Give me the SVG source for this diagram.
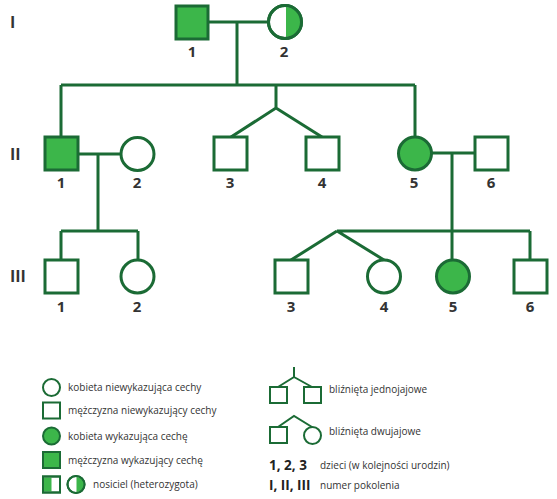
<svg xmlns="http://www.w3.org/2000/svg" width="557" height="499" viewBox="0 0 557 499">
<defs>
<style>
.ln{fill:none;stroke:#1b6b35;stroke-width:3}
.e{fill:#fff;stroke:#1b6b35;stroke-width:3}
.f{fill:#3cb64a;stroke:#1b6b35;stroke-width:3}
.le{fill:#fff;stroke:#1b6b35;stroke-width:2}
.lf{fill:#3cb64a;stroke:#1b6b35;stroke-width:2}
.lln{fill:none;stroke:#1b6b35;stroke-width:2}
.g{fill:#3cb64a}
.num{font-family:"Open Sans","Liberation Sans",sans-serif;font-weight:bold;font-size:15px;fill:#333;text-anchor:middle}
.rom{font-family:"Open Sans","Liberation Sans",sans-serif;font-weight:bold;font-size:16px;fill:#333}
.lt{font-family:"Open Sans","Liberation Sans",sans-serif;font-size:10px;fill:#333}
.lb{font-family:"Open Sans","Liberation Sans",sans-serif;font-weight:bold;font-size:13.5px;fill:#222}
</style>
</defs>
<rect width="557" height="499" fill="#fff"/>
<g id="connectors">
<path class="ln" d="M207 22H269M237 22V85M61 85H415M61 85V137M415 85V137M276 85V108L231 137M276 108L322 137"/>
<path class="ln" d="M78 154H121M98 154V231M61 231H138M61 231V260M138 231V260"/>
<path class="ln" d="M432 153H475M452 153V260M337 231H530M530 231V260M337 231L291 260M337 231L384 260"/>
</g>
<g id="gen-labels">
<text class="rom" x="10" y="28">I</text>
<text class="rom" x="10" y="160">II</text>
<text class="rom" x="10" y="282">III</text>
</g>
<g id="I-1"><rect class="f" x="176" y="6" width="32" height="33"/><text class="num" x="192" y="57">1</text></g>
<g id="I-2"><circle class="e" cx="285" cy="22" r="16.5"/><path class="g" d="M286 7A15 15 0 0 1 286 37Z"/><circle cx="285" cy="22" r="16.5" fill="none" stroke="#1b6b35" stroke-width="3"/><text class="num" x="284" y="57">2</text></g>
<g id="II-1"><rect class="f" x="45" y="137" width="33" height="33"/><text class="num" x="61" y="188">1</text></g>
<g id="II-2"><circle class="e" cx="137.5" cy="154" r="16.5"/><text class="num" x="137" y="188">2</text></g>
<g id="II-3"><rect class="e" x="214" y="137" width="33" height="33"/><text class="num" x="230" y="188">3</text></g>
<g id="II-4"><rect class="e" x="306" y="137" width="33" height="33"/><text class="num" x="322" y="188">4</text></g>
<g id="II-5"><circle class="f" cx="415" cy="153.5" r="16.5"/><text class="num" x="414" y="188">5</text></g>
<g id="II-6"><rect class="e" x="475" y="137" width="33" height="33"/><text class="num" x="491" y="188">6</text></g>
<g id="III-1"><rect class="e" x="45" y="260" width="33" height="33"/><text class="num" x="61" y="312">1</text></g>
<g id="III-2"><circle class="e" cx="137.5" cy="276.5" r="16.5"/><text class="num" x="137" y="312">2</text></g>
<g id="III-3"><rect class="e" x="275" y="260" width="33" height="33"/><text class="num" x="291" y="312">3</text></g>
<g id="III-4"><circle class="e" cx="384" cy="276.5" r="16.5"/><text class="num" x="384" y="312">4</text></g>
<g id="III-5"><circle class="f" cx="453" cy="276.5" r="16.5"/><text class="num" x="453" y="312">5</text></g>
<g id="III-6"><rect class="e" x="514" y="260" width="33" height="33"/><text class="num" x="530" y="312">6</text></g>
<g id="legend">
<circle class="le" cx="51.5" cy="387.5" r="8.5"/><text class="lt" x="68" y="391">kobieta niewykazująca cechy</text>
<rect class="le" x="43" y="402.5" width="17" height="16"/><text class="lt" x="68" y="414">mężczyzna niewykazujący cechy</text>
<circle class="lf" cx="51.5" cy="436" r="8.5"/><text class="lt" x="68" y="439.5">kobieta wykazująca cechę</text>
<rect class="lf" x="43" y="452" width="17" height="16"/><text class="lt" x="68" y="463.5">mężczyzna wykazujący cechę</text>
<rect class="le" x="43" y="476.5" width="17" height="16"/><rect class="g" x="44" y="477.5" width="7.5" height="14"/><rect class="lln" x="43" y="476.5" width="17" height="16"/>
<circle class="le" cx="76" cy="484.5" r="8.5"/><path class="g" d="M76.5 477A7.5 7.5 0 0 1 76.5 492Z"/><circle class="lln" cx="76" cy="484.5" r="8.5"/>
<text class="lt" x="93" y="488">nosiciel (heterozygota)</text>
<path class="lln" d="M294 367V377L278 387M294 377L312 387"/>
<rect class="le" x="270" y="387" width="17" height="16"/><rect class="le" x="304" y="387" width="17" height="16"/>
<text class="lt" x="329" y="393">bliźnięta jednojajowe</text>
<path class="lln" d="M278 427L294 416L312 427"/>
<rect class="le" x="270" y="427" width="17" height="16"/><circle class="le" cx="312.5" cy="435.5" r="8.5"/>
<text class="lt" x="329" y="435">bliźnięta dwujajowe</text>
<text class="lb" x="269" y="470">1, 2, 3</text><text class="lt" x="320" y="469">dzieci (w kolejności urodzin)</text>
<text class="lb" x="269" y="490">I, II, III</text><text class="lt" x="320" y="489">numer pokolenia</text>
</g>
</svg>
